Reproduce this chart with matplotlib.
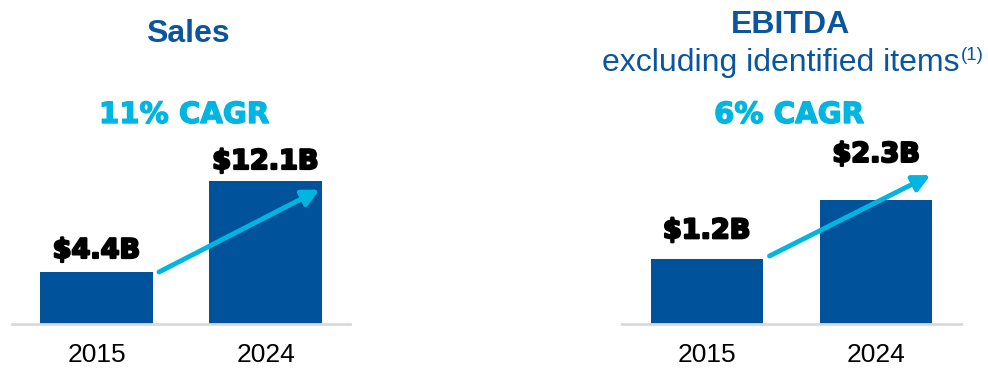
import matplotlib.pyplot as plt
import matplotlib.patheffects as pe

# data
years = ["2015", "2024"]
sales = [4.4, 12.1]
ebitda = [1.2, 2.3]
sales_labels = ["$4.4B", "$12.1B"]
ebitda_labels = ["$1.2B", "$2.3B"]
sales_cagr = "11% CAGR"
ebitda_cagr = "6% CAGR"

BLUE = "#00529B"
TITLE_BLUE = "#0B559F"
CYAN = "#00B5E2"
W, H = 988, 368

fig = plt.figure(figsize=(W / 100, H / 100), dpi=100)


def px(x, y):
    # pixel position (from top-left) -> figure fraction
    return x / W, 1 - y / H


def panel(left_px, right_px, values, labels, ymax, label_off, arrow):
    x0, y0 = px(left_px, 324)
    x1, _ = px(right_px, 324)
    ax = fig.add_axes([x0, y0, x1 - x0, 184 / H])
    xs = range(len(values))
    ax.bar(xs, values, width=0.663, color=BLUE, zorder=2)
    ax.set_xlim(-0.5, 1.5)
    ax.set_ylim(0, ymax)
    for s in ["top", "right", "left"]:
        ax.spines[s].set_visible(False)
    ax.spines["bottom"].set_color("#D9D9D9")
    ax.spines["bottom"].set_linewidth(2)
    ax.set_yticks([])
    ax.set_xticks(list(xs))
    ax.set_xticklabels(years, fontsize=19, family="Liberation Sans")
    ax.tick_params(axis="x", length=0, pad=14)
    for i, (v, lab) in enumerate(zip(values, labels)):
        ax.annotate(lab, (i, v), xytext=(0, label_off[i]), textcoords="offset pixels",
                    ha="center", va="center", fontsize=19.5, fontweight="bold",
                    family="DejaVu Sans", color="black",
                    path_effects=[pe.withStroke(linewidth=1.6, foreground="black")])
    # growth arrow from first bar to second bar
    (sx, sy), (ex, ey) = arrow
    ax.annotate("", xy=(ex, ey), xytext=(sx, sy),
                arrowprops=dict(arrowstyle="-|>,head_length=1.0,head_width=0.5",
                                color=CYAN, lw=3.5, shrinkA=0, shrinkB=0),
                zorder=3)
    return ax


panel(12, 350, sales, sales_labels, 15.57, [21, 19],
      ((0.37, sales[0] * 1.0), (1.32, sales[1] * 0.94)))
panel(622, 961, ebitda, ebitda_labels, 3.41, [28, 45],
      ((0.37, ebitda[0] * 1.05), (1.32, ebitda[1] * 1.2)))

# headers
fig.text(*px(188, 34), "Sales", ha="center", va="center", fontsize=23,
         fontweight="bold", color=TITLE_BLUE, family="Liberation Sans")
fig.text(*px(184, 115), sales_cagr, ha="center", va="center", fontsize=21,
         fontweight="bold", color=CYAN, family="DejaVu Sans",
         path_effects=[pe.withStroke(linewidth=1, foreground=CYAN)])
fig.text(*px(790, 25), "EBITDA", ha="center", va="center", fontsize=23,
         fontweight="bold", color=TITLE_BLUE, family="Liberation Sans")
fig.text(*px(959, 63), "excluding identified items", ha="right", va="center",
         fontsize=23, color=TITLE_BLUE, family="Liberation Sans")
fig.text(*px(961, 55), "(1)", ha="left", va="center",
         fontsize=13.5, color=TITLE_BLUE, family="Liberation Sans")
fig.text(*px(789, 115), ebitda_cagr, ha="center", va="center", fontsize=21,
         fontweight="bold", color=CYAN, family="DejaVu Sans",
         path_effects=[pe.withStroke(linewidth=1, foreground=CYAN)])

fig.savefig("out.png", dpi=100)
